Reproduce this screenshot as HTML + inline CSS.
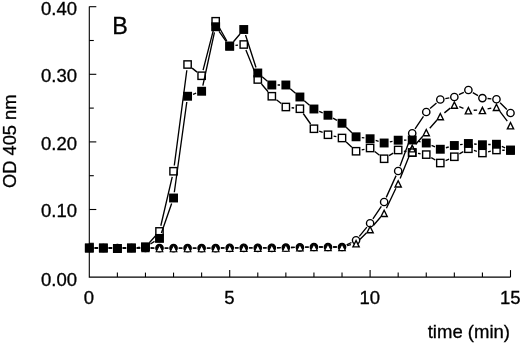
<!DOCTYPE html>
<html><head><meta charset="utf-8"><title>B</title>
<style>html,body{margin:0;padding:0;background:#fff}svg{display:block}</style>
</head><body>
<svg width="520" height="344" viewBox="0 0 520 344">
<rect width="520" height="344" fill="#fff"/>
<g stroke="#000" stroke-width="1.1" fill="none">
<path d="M89.3 6.6 V277.1 H510.5"/>
<path d="M89.3 243.30 h4.5"/>
<path d="M89.3 209.50 h7"/>
<path d="M89.3 175.70 h4.5"/>
<path d="M89.3 141.90 h7"/>
<path d="M89.3 108.10 h4.5"/>
<path d="M89.3 74.30 h7"/>
<path d="M89.3 40.50 h4.5"/>
<path d="M89.3 6.70 h7"/>
<path d="M117.38 277.1 v-4.5"/>
<path d="M145.46 277.1 v-4.5"/>
<path d="M173.54 277.1 v-4.5"/>
<path d="M201.62 277.1 v-4.5"/>
<path d="M229.70 277.1 v-7"/>
<path d="M257.78 277.1 v-4.5"/>
<path d="M285.86 277.1 v-4.5"/>
<path d="M313.94 277.1 v-4.5"/>
<path d="M342.02 277.1 v-4.5"/>
<path d="M370.10 277.1 v-7"/>
<path d="M398.18 277.1 v-4.5"/>
<path d="M426.26 277.1 v-4.5"/>
<path d="M454.34 277.1 v-4.5"/>
<path d="M482.42 277.1 v-4.5"/>
<path d="M510.50 277.1 v-7"/>
</g>
<path fill="none" stroke="#000" stroke-width="1.35" d="M94.40 248.00 L98.24 248.00 M108.44 248.00 L112.28 248.00 M122.48 248.00 L126.32 248.00 M136.52 248.00 L140.36 248.00 M150.56 248.04 L154.40 248.06 M164.60 248.10 L168.44 248.10 M178.64 248.10 L182.48 248.10 M192.68 248.10 L196.52 248.10 M206.72 248.10 L210.56 248.10 M220.76 247.99 L224.60 247.91 M234.80 247.80 L238.64 247.80 M248.84 247.80 L252.68 247.80 M262.88 247.80 L266.72 247.80 M276.92 247.73 L280.76 247.67 M290.96 247.49 L294.80 247.41 M305.00 247.19 L308.84 247.11 M319.04 247.00 L322.88 247.00 M333.08 247.00 L336.92 247.00 M346.62 244.80 L351.46 242.50 M359.30 236.36 L366.86 227.19 M372.91 218.99 L381.33 206.26 M386.24 197.35 L396.08 175.65 M399.96 166.22 L410.44 138.03 M415.03 128.99 L423.45 116.26 M430.07 108.61 L436.49 102.89 M445.32 98.61 L449.32 97.89 M458.90 94.72 L463.82 92.28 M472.80 92.55 L478.00 95.55 M487.50 98.52 L491.38 98.83 M500.10 102.82 L506.86 109.43"/>
<circle cx="89.30" cy="248.00" r="3.65" fill="#000" stroke="#000" stroke-width="1.4"/><circle cx="103.34" cy="248.00" r="3.65" fill="#000" stroke="#000" stroke-width="1.4"/><circle cx="117.38" cy="248.00" r="3.65" fill="#000" stroke="#000" stroke-width="1.4"/><circle cx="131.42" cy="248.00" r="3.65" fill="#000" stroke="#000" stroke-width="1.4"/><circle cx="145.46" cy="248.00" r="3.65" fill="#000" stroke="#000" stroke-width="1.4"/><circle cx="159.50" cy="248.10" r="3.65" fill="#000" stroke="#000" stroke-width="1.4"/><circle cx="173.54" cy="248.10" r="3.65" fill="#000" stroke="#000" stroke-width="1.4"/><circle cx="187.58" cy="248.10" r="3.65" fill="#000" stroke="#000" stroke-width="1.4"/><circle cx="201.62" cy="248.10" r="3.65" fill="#000" stroke="#000" stroke-width="1.4"/><circle cx="215.66" cy="248.10" r="3.65" fill="#000" stroke="#000" stroke-width="1.4"/><circle cx="229.70" cy="247.80" r="3.65" fill="#000" stroke="#000" stroke-width="1.4"/><circle cx="243.74" cy="247.80" r="3.65" fill="#000" stroke="#000" stroke-width="1.4"/><circle cx="257.78" cy="247.80" r="3.65" fill="#000" stroke="#000" stroke-width="1.4"/><circle cx="271.82" cy="247.80" r="3.65" fill="#000" stroke="#000" stroke-width="1.4"/><circle cx="285.86" cy="247.60" r="3.65" fill="#000" stroke="#000" stroke-width="1.4"/><circle cx="299.90" cy="247.30" r="3.65" fill="#000" stroke="#000" stroke-width="1.4"/><circle cx="313.94" cy="247.00" r="3.65" fill="#000" stroke="#000" stroke-width="1.4"/><circle cx="327.98" cy="247.00" r="3.65" fill="#000" stroke="#000" stroke-width="1.4"/><circle cx="342.02" cy="247.00" r="3.65" fill="#000" stroke="#000" stroke-width="1.4"/><circle cx="356.06" cy="240.30" r="3.65" fill="#fff" stroke="#000" stroke-width="1.4"/><circle cx="370.10" cy="223.25" r="3.65" fill="#fff" stroke="#000" stroke-width="1.4"/><circle cx="384.14" cy="202.00" r="3.65" fill="#fff" stroke="#000" stroke-width="1.4"/><circle cx="398.18" cy="171.00" r="3.65" fill="#fff" stroke="#000" stroke-width="1.4"/><circle cx="412.22" cy="133.25" r="3.65" fill="#fff" stroke="#000" stroke-width="1.4"/><circle cx="426.26" cy="112.00" r="3.65" fill="#fff" stroke="#000" stroke-width="1.4"/><circle cx="440.30" cy="99.50" r="3.65" fill="#fff" stroke="#000" stroke-width="1.4"/><circle cx="454.34" cy="97.00" r="3.65" fill="#fff" stroke="#000" stroke-width="1.4"/><circle cx="468.38" cy="90.00" r="3.65" fill="#fff" stroke="#000" stroke-width="1.4"/><circle cx="482.42" cy="98.10" r="3.65" fill="#fff" stroke="#000" stroke-width="1.4"/><circle cx="496.46" cy="99.25" r="3.65" fill="#fff" stroke="#000" stroke-width="1.4"/><circle cx="510.50" cy="113.00" r="3.65" fill="#fff" stroke="#000" stroke-width="1.4"/>
<path fill="none" stroke="#000" stroke-width="1.35" d="M94.60 248.00 L98.04 248.00 M108.64 248.00 L112.08 248.00 M122.68 248.00 L126.12 248.00 M136.72 248.00 L140.16 248.00 M150.76 248.04 L154.20 248.06 M164.80 248.10 L168.24 248.10 M178.84 248.10 L182.28 248.10 M192.88 248.10 L196.32 248.10 M206.92 248.10 L210.36 248.10 M220.96 247.99 L224.40 247.91 M235.00 247.80 L238.44 247.80 M249.04 247.80 L252.48 247.80 M263.08 247.80 L266.52 247.80 M277.12 247.72 L280.56 247.68 M291.16 247.49 L294.60 247.41 M305.20 247.19 L308.64 247.11 M319.24 247.00 L322.68 247.00 M333.28 247.00 L336.72 247.00 M347.15 245.65 L350.93 244.65 M359.81 239.55 L366.35 233.00 M373.57 225.24 L380.67 217.01 M386.42 208.21 L395.90 188.29 M400.14 178.58 L410.26 153.22 M415.71 144.31 L422.77 136.24 M429.76 128.27 L436.80 120.23 M444.40 112.89 L450.24 108.11 M459.27 106.70 L463.45 108.35 M473.68 110.22 L477.12 110.18 M487.60 108.96 L491.28 108.14 M499.69 111.21 L507.27 121.09"/>
<path d="M89.30 245.00 L92.65 251.60 L85.95 251.60 Z" fill="#fff" stroke="#000" stroke-width="1.1" stroke-linejoin="miter"/><path d="M103.34 245.00 L106.69 251.60 L99.99 251.60 Z" fill="#fff" stroke="#000" stroke-width="1.1" stroke-linejoin="miter"/><path d="M117.38 245.00 L120.73 251.60 L114.03 251.60 Z" fill="#fff" stroke="#000" stroke-width="1.1" stroke-linejoin="miter"/><path d="M131.42 245.00 L134.77 251.60 L128.07 251.60 Z" fill="#fff" stroke="#000" stroke-width="1.1" stroke-linejoin="miter"/><path d="M145.46 245.00 L148.81 251.60 L142.11 251.60 Z" fill="#fff" stroke="#000" stroke-width="1.1" stroke-linejoin="miter"/><path d="M159.50 245.10 L162.85 251.70 L156.15 251.70 Z" fill="#fff" stroke="#000" stroke-width="1.1" stroke-linejoin="miter"/><path d="M173.54 245.10 L176.89 251.70 L170.19 251.70 Z" fill="#fff" stroke="#000" stroke-width="1.1" stroke-linejoin="miter"/><path d="M187.58 245.10 L190.93 251.70 L184.23 251.70 Z" fill="#fff" stroke="#000" stroke-width="1.1" stroke-linejoin="miter"/><path d="M201.62 245.10 L204.97 251.70 L198.27 251.70 Z" fill="#fff" stroke="#000" stroke-width="1.1" stroke-linejoin="miter"/><path d="M215.66 245.10 L219.01 251.70 L212.31 251.70 Z" fill="#fff" stroke="#000" stroke-width="1.1" stroke-linejoin="miter"/><path d="M229.70 244.80 L233.05 251.40 L226.35 251.40 Z" fill="#fff" stroke="#000" stroke-width="1.1" stroke-linejoin="miter"/><path d="M243.74 244.80 L247.09 251.40 L240.39 251.40 Z" fill="#fff" stroke="#000" stroke-width="1.1" stroke-linejoin="miter"/><path d="M257.78 244.80 L261.13 251.40 L254.43 251.40 Z" fill="#fff" stroke="#000" stroke-width="1.1" stroke-linejoin="miter"/><path d="M271.82 244.80 L275.17 251.40 L268.47 251.40 Z" fill="#fff" stroke="#000" stroke-width="1.1" stroke-linejoin="miter"/><path d="M285.86 244.60 L289.21 251.20 L282.51 251.20 Z" fill="#fff" stroke="#000" stroke-width="1.1" stroke-linejoin="miter"/><path d="M299.90 244.30 L303.25 250.90 L296.55 250.90 Z" fill="#fff" stroke="#000" stroke-width="1.1" stroke-linejoin="miter"/><path d="M313.94 244.00 L317.29 250.60 L310.59 250.60 Z" fill="#fff" stroke="#000" stroke-width="1.1" stroke-linejoin="miter"/><path d="M327.98 244.00 L331.33 250.60 L324.63 250.60 Z" fill="#fff" stroke="#000" stroke-width="1.1" stroke-linejoin="miter"/><path d="M342.02 244.00 L345.37 250.60 L338.67 250.60 Z" fill="#fff" stroke="#000" stroke-width="1.1" stroke-linejoin="miter"/><path d="M356.06 240.55 L359.16 246.85 L352.96 246.85 Z" fill="#fff" stroke="#000" stroke-width="1.4" stroke-linejoin="miter"/><path d="M370.10 226.50 L373.20 232.80 L367.00 232.80 Z" fill="#fff" stroke="#000" stroke-width="1.4" stroke-linejoin="miter"/><path d="M384.14 210.25 L387.24 216.55 L381.04 216.55 Z" fill="#fff" stroke="#000" stroke-width="1.4" stroke-linejoin="miter"/><path d="M398.18 180.75 L401.28 187.05 L395.08 187.05 Z" fill="#fff" stroke="#000" stroke-width="1.4" stroke-linejoin="miter"/><path d="M412.22 145.55 L415.32 151.85 L409.12 151.85 Z" fill="#fff" stroke="#000" stroke-width="1.4" stroke-linejoin="miter"/><path d="M426.26 129.50 L429.36 135.80 L423.16 135.80 Z" fill="#fff" stroke="#000" stroke-width="1.4" stroke-linejoin="miter"/><path d="M440.30 113.50 L443.40 119.80 L437.20 119.80 Z" fill="#fff" stroke="#000" stroke-width="1.4" stroke-linejoin="miter"/><path d="M454.34 102.00 L457.44 108.30 L451.24 108.30 Z" fill="#fff" stroke="#000" stroke-width="1.4" stroke-linejoin="miter"/><path d="M468.38 107.55 L471.48 113.85 L465.28 113.85 Z" fill="#fff" stroke="#000" stroke-width="1.4" stroke-linejoin="miter"/><path d="M482.42 107.35 L485.52 113.65 L479.32 113.65 Z" fill="#fff" stroke="#000" stroke-width="1.4" stroke-linejoin="miter"/><path d="M496.46 104.25 L499.56 110.55 L493.36 110.55 Z" fill="#fff" stroke="#000" stroke-width="1.4" stroke-linejoin="miter"/><path d="M510.50 122.55 L513.60 128.85 L507.40 128.85 Z" fill="#fff" stroke="#000" stroke-width="1.4" stroke-linejoin="miter"/>
<path fill="none" stroke="#000" stroke-width="1.35" d="M95.10 248.00 L97.54 248.00 M109.14 248.21 L111.58 248.29 M123.18 248.29 L125.62 248.21 M137.21 247.59 L139.67 247.41 M149.34 242.69 L155.62 235.71 M160.82 225.75 L172.22 176.90 M174.30 165.50 L186.82 70.25 M192.11 68.13 L197.09 72.12 M203.07 70.13 L214.21 26.87 M218.52 26.29 L226.84 40.96 M235.47 45.38 L237.97 45.12 M245.90 49.88 L255.62 74.12 M261.51 83.95 L268.09 91.80 M276.43 99.78 L281.25 103.47 M291.62 107.72 L294.14 108.03 M303.23 113.50 L310.61 124.00 M319.27 131.03 L322.65 132.47 M333.63 136.06 L336.37 136.69 M346.24 141.98 L351.84 147.27 M361.71 149.94 L364.45 149.31 M374.71 151.53 L379.53 155.22 M389.06 155.68 L393.26 153.07 M403.88 151.06 L406.52 151.54 M417.96 153.42 L420.52 153.78 M431.24 157.58 L435.32 160.02 M445.60 160.64 L449.04 159.11 M459.38 153.88 L463.34 151.62 M473.93 150.43 L476.87 151.32 M488.09 151.79 L490.79 151.21 M502.26 150.21 L504.70 150.29"/>
<rect x="85.65" y="244.35" width="7.3" height="7.3" fill="#fff" stroke="#000" stroke-width="1.4"/><rect x="99.69" y="244.35" width="7.3" height="7.3" fill="#fff" stroke="#000" stroke-width="1.4"/><rect x="113.73" y="244.85" width="7.3" height="7.3" fill="#fff" stroke="#000" stroke-width="1.4"/><rect x="127.77" y="244.35" width="7.3" height="7.3" fill="#fff" stroke="#000" stroke-width="1.4"/><rect x="141.81" y="243.35" width="7.3" height="7.3" fill="#fff" stroke="#000" stroke-width="1.4"/><rect x="155.85" y="227.75" width="7.3" height="7.3" fill="#fff" stroke="#000" stroke-width="1.4"/><rect x="169.89" y="167.60" width="7.3" height="7.3" fill="#fff" stroke="#000" stroke-width="1.4"/><rect x="183.93" y="60.85" width="7.3" height="7.3" fill="#fff" stroke="#000" stroke-width="1.4"/><rect x="197.97" y="72.10" width="7.3" height="7.3" fill="#fff" stroke="#000" stroke-width="1.4"/><rect x="212.01" y="17.60" width="7.3" height="7.3" fill="#fff" stroke="#000" stroke-width="1.4"/><rect x="226.05" y="42.35" width="7.3" height="7.3" fill="#fff" stroke="#000" stroke-width="1.4"/><rect x="240.09" y="40.85" width="7.3" height="7.3" fill="#fff" stroke="#000" stroke-width="1.4"/><rect x="254.13" y="75.85" width="7.3" height="7.3" fill="#fff" stroke="#000" stroke-width="1.4"/><rect x="268.17" y="92.60" width="7.3" height="7.3" fill="#fff" stroke="#000" stroke-width="1.4"/><rect x="282.21" y="103.35" width="7.3" height="7.3" fill="#fff" stroke="#000" stroke-width="1.4"/><rect x="296.25" y="105.10" width="7.3" height="7.3" fill="#fff" stroke="#000" stroke-width="1.4"/><rect x="310.29" y="125.10" width="7.3" height="7.3" fill="#fff" stroke="#000" stroke-width="1.4"/><rect x="324.33" y="131.10" width="7.3" height="7.3" fill="#fff" stroke="#000" stroke-width="1.4"/><rect x="338.37" y="134.35" width="7.3" height="7.3" fill="#fff" stroke="#000" stroke-width="1.4"/><rect x="352.41" y="147.60" width="7.3" height="7.3" fill="#fff" stroke="#000" stroke-width="1.4"/><rect x="366.45" y="144.35" width="7.3" height="7.3" fill="#fff" stroke="#000" stroke-width="1.4"/><rect x="380.49" y="155.10" width="7.3" height="7.3" fill="#fff" stroke="#000" stroke-width="1.4"/><rect x="394.53" y="146.35" width="7.3" height="7.3" fill="#fff" stroke="#000" stroke-width="1.4"/><rect x="408.57" y="148.95" width="7.3" height="7.3" fill="#fff" stroke="#000" stroke-width="1.4"/><rect x="422.61" y="150.95" width="7.3" height="7.3" fill="#fff" stroke="#000" stroke-width="1.4"/><rect x="436.65" y="159.35" width="7.3" height="7.3" fill="#fff" stroke="#000" stroke-width="1.4"/><rect x="450.69" y="153.10" width="7.3" height="7.3" fill="#fff" stroke="#000" stroke-width="1.4"/><rect x="464.73" y="145.10" width="7.3" height="7.3" fill="#fff" stroke="#000" stroke-width="1.4"/><rect x="478.77" y="149.35" width="7.3" height="7.3" fill="#fff" stroke="#000" stroke-width="1.4"/><rect x="492.81" y="146.35" width="7.3" height="7.3" fill="#fff" stroke="#000" stroke-width="1.4"/><rect x="506.85" y="146.85" width="7.3" height="7.3" fill="#fff" stroke="#000" stroke-width="1.4"/>
<path fill="none" stroke="#000" stroke-width="1.35" d="M95.10 248.00 L97.54 248.00 M109.14 248.21 L111.58 248.29 M123.18 248.29 L125.62 248.21 M137.21 247.59 L139.67 247.41 M150.41 243.97 L154.55 241.43 M161.40 232.92 L171.64 203.48 M174.33 192.25 L186.79 102.00 M193.04 94.30 L196.16 93.20 M202.85 85.58 L214.43 32.42 M219.05 31.46 L226.31 41.54 M233.43 41.80 L240.01 33.95 M245.52 35.02 L256.00 67.48 M262.19 76.77 L267.41 81.23 M277.62 85.00 L280.06 85.00 M290.27 88.77 L295.49 93.23 M304.31 100.77 L309.53 105.23 M319.24 111.36 L322.68 112.89 M333.02 118.12 L336.98 120.38 M346.19 127.28 L351.89 132.77 M361.80 137.60 L364.36 137.95 M375.65 140.43 L378.59 141.32 M389.83 141.87 L392.49 141.33 M403.98 140.12 L406.42 140.08 M417.89 141.21 L420.59 141.79 M431.56 145.36 L435.00 146.89 M445.90 147.75 L448.74 147.00 M460.08 144.68 L462.64 144.32 M474.16 144.01 L476.64 144.24 M488.22 144.54 L490.66 144.46 M501.83 146.45 L505.13 147.80"/>
<rect x="84.85" y="243.55" width="8.9" height="8.9" fill="#000"/><rect x="98.89" y="243.55" width="8.9" height="8.9" fill="#000"/><rect x="112.93" y="244.05" width="8.9" height="8.9" fill="#000"/><rect x="126.97" y="243.55" width="8.9" height="8.9" fill="#000"/><rect x="141.01" y="242.55" width="8.9" height="8.9" fill="#000"/><rect x="155.05" y="233.95" width="8.9" height="8.9" fill="#000"/><rect x="169.09" y="193.55" width="8.9" height="8.9" fill="#000"/><rect x="183.13" y="91.80" width="8.9" height="8.9" fill="#000"/><rect x="197.17" y="86.80" width="8.9" height="8.9" fill="#000"/><rect x="211.21" y="22.30" width="8.9" height="8.9" fill="#000"/><rect x="225.25" y="41.80" width="8.9" height="8.9" fill="#000"/><rect x="239.29" y="25.05" width="8.9" height="8.9" fill="#000"/><rect x="253.33" y="68.55" width="8.9" height="8.9" fill="#000"/><rect x="267.37" y="80.55" width="8.9" height="8.9" fill="#000"/><rect x="281.41" y="80.55" width="8.9" height="8.9" fill="#000"/><rect x="295.45" y="92.55" width="8.9" height="8.9" fill="#000"/><rect x="309.49" y="104.55" width="8.9" height="8.9" fill="#000"/><rect x="323.53" y="110.80" width="8.9" height="8.9" fill="#000"/><rect x="337.57" y="118.80" width="8.9" height="8.9" fill="#000"/><rect x="351.61" y="132.35" width="8.9" height="8.9" fill="#000"/><rect x="365.65" y="134.30" width="8.9" height="8.9" fill="#000"/><rect x="379.69" y="138.55" width="8.9" height="8.9" fill="#000"/><rect x="393.73" y="135.75" width="8.9" height="8.9" fill="#000"/><rect x="407.77" y="135.55" width="8.9" height="8.9" fill="#000"/><rect x="421.81" y="138.55" width="8.9" height="8.9" fill="#000"/><rect x="435.85" y="144.80" width="8.9" height="8.9" fill="#000"/><rect x="449.89" y="141.05" width="8.9" height="8.9" fill="#000"/><rect x="463.93" y="139.05" width="8.9" height="8.9" fill="#000"/><rect x="477.97" y="140.30" width="8.9" height="8.9" fill="#000"/><rect x="492.01" y="139.80" width="8.9" height="8.9" fill="#000"/><rect x="506.05" y="145.55" width="8.9" height="8.9" fill="#000"/>
<path d="M412.22 145.55 L415.32 151.85 L409.12 151.85 Z" fill="#fff" stroke="#000" stroke-width="1.4" stroke-linejoin="miter"/>
<rect x="408.57" y="148.95" width="7.3" height="7.3" fill="none" stroke="#000" stroke-width="1.4"/>
<g font-family="Liberation Sans, Arial, sans-serif" fill="#000" stroke="#000" stroke-width="0.3">
<text transform="translate(77.00 285.80) scale(1.047 1)" font-size="17.7" text-anchor="end">0.00</text>
<text transform="translate(77.00 217.40) scale(1.047 1)" font-size="17.7" text-anchor="end">0.10</text>
<text transform="translate(77.00 149.80) scale(1.047 1)" font-size="17.7" text-anchor="end">0.20</text>
<text transform="translate(77.00 82.20) scale(1.047 1)" font-size="17.7" text-anchor="end">0.30</text>
<text transform="translate(77.00 14.60) scale(1.047 1)" font-size="17.7" text-anchor="end">0.40</text>
<text transform="translate(89.00 304.00) scale(1.047 1)" font-size="17.7" text-anchor="middle">0</text>
<text transform="translate(229.40 304.00) scale(1.047 1)" font-size="17.7" text-anchor="middle">5</text>
<text transform="translate(369.80 304.00) scale(1.047 1)" font-size="17.7" text-anchor="middle">10</text>
<text transform="translate(510.20 304.00) scale(1.047 1)" font-size="17.7" text-anchor="middle">15</text>
<text transform="translate(510.00 338.00) scale(1.047 1)" font-size="17.7" text-anchor="end">time (min)</text>
<text transform="translate(112.20 34.20) scale(1.0 1)" font-size="23.3" text-anchor="start">B</text>
<text transform="translate(15.8 141.3) rotate(-90)" font-size="18.3" text-anchor="middle">OD 405 nm</text>
</g>
</svg>
</body></html>
